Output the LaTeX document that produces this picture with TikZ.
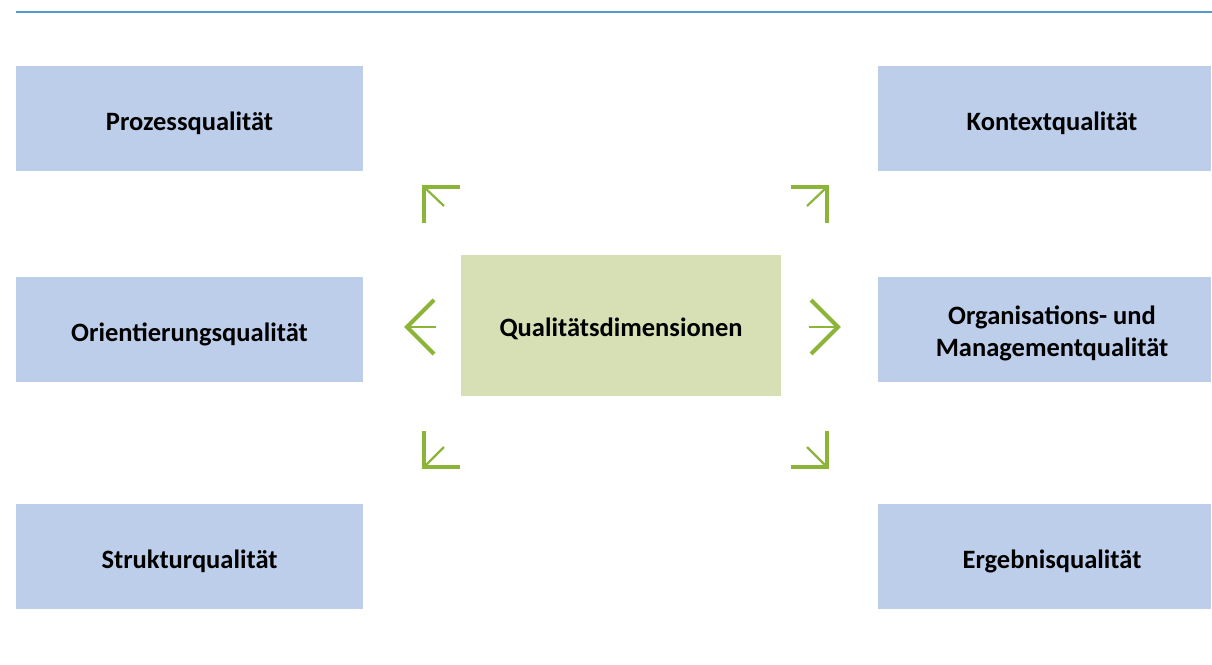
\documentclass[tikz,border=0pt]{standalone}
\usepackage{fontspec}
\setmainfont{Carlito}
\definecolor{topline}{RGB}{79,155,207}
\definecolor{boxblue}{RGB}{189,206,235}
\definecolor{boxgreen}{RGB}{214,224,180}
\definecolor{arrgreen}{RGB}{139,180,56}
\tikzset{
  qbox/.style={fill=boxblue, draw=none, inner sep=0pt},
  cbox/.style={fill=boxgreen, draw=none, inner sep=0pt},
  lbl/.style={inner sep=0pt, align=center, font=\fontsize{26.5}{32}\selectfont\bfseries},
  thickarm/.style={draw=arrgreen, line width=4.5pt},
  thinarm/.style={draw=arrgreen, line width=2.2pt},
}
\begin{document}
\begin{tikzpicture}[x=1pt,y=-1pt]
\useasboundingbox (0,0) rectangle (1212,664);
\coordinate (tl) at (16,12);
\coordinate (tr) at (1212,12);
\draw[topline, line width=2.2pt] (tl) -- (tr);
% left column
\node[qbox, minimum width=347pt, minimum height=105pt] (p) at (189.5,118.5) {};
\node[qbox, minimum width=347pt, minimum height=105pt] (o) at (189.5,329.5) {};
\node[qbox, minimum width=347pt, minimum height=105pt] (s) at (189.5,556.5) {};
% right column
\node[qbox, minimum width=333pt, minimum height=105pt] (k) at (1044.5,118.5) {};
\node[qbox, minimum width=333pt, minimum height=105pt] (m) at (1044.5,329.5) {};
\node[qbox, minimum width=333pt, minimum height=105pt] (e) at (1044.5,556.5) {};
% center
\node[cbox, minimum width=320pt, minimum height=141pt] (c) at (621,325.5) {};
% labels
\node[lbl] (pl) at ([yshift=-5pt]p.center) {Prozessqualität};
\node[lbl] (ol) at ([yshift=-5pt]o.center) {Orientierungsqualität};
\node[lbl] (sl) at ([yshift=-5pt]s.center) {Strukturqualität};
\node[lbl] (kl) at ([xshift=7.5pt,yshift=-5pt]k.center) {Kontextqualität};
\node[lbl] (ml) at ([xshift=7.5pt,yshift=-4pt]m.center) {Organisations- und\\Managementqualität};
\node[lbl] (el) at ([xshift=7.5pt,yshift=-5pt]e.center) {Ergebnisqualität};
\node[lbl] (cl) at ([yshift=-3pt]c.center) {Qualitätsdimensionen};
% upper-left arrow
\coordinate (ulc) at (424,187);
\coordinate (ulh) at (460,187);
\coordinate (ulv) at (424,223);
\coordinate (uld) at (444,206);
\draw[thickarm] (ulh) -- (ulc) -- (ulv);
\draw[thinarm] (ulc) -- (uld);
% upper-right arrow
\coordinate (urc) at (827,187);
\coordinate (urh) at (791,187);
\coordinate (urv) at (827,223);
\coordinate (urd) at (807,206);
\draw[thickarm] (urh) -- (urc) -- (urv);
\draw[thinarm] (urc) -- (urd);
% lower-left arrow
\coordinate (llc) at (424,467);
\coordinate (llh) at (460,467);
\coordinate (llv) at (424,431);
\coordinate (lld) at (444,447);
\draw[thickarm] (llh) -- (llc) -- (llv);
\draw[thinarm] (llc) -- (lld);
% lower-right arrow
\coordinate (lrc) at (827,467);
\coordinate (lrh) at (791,467);
\coordinate (lrv) at (827,431);
\coordinate (lrd) at (807,447);
\draw[thickarm] (lrh) -- (lrc) -- (lrv);
\draw[thinarm] (lrc) -- (lrd);
% left arrow
\coordinate (lt) at (407,327);
\coordinate (la) at (434,300);
\coordinate (lb) at (434,354);
\coordinate (ls) at (436,327);
\draw[draw=arrgreen, line width=4pt] (la) -- (lt) -- (lb);
\draw[thinarm] (lt) -- (ls);
% right arrow
\coordinate (rt) at (838,327);
\coordinate (ra) at (811,300);
\coordinate (rb) at (811,354);
\coordinate (rs) at (809,327);
\draw[draw=arrgreen, line width=4pt] (ra) -- (rt) -- (rb);
\draw[thinarm] (rt) -- (rs);
\end{tikzpicture}
\end{document}
